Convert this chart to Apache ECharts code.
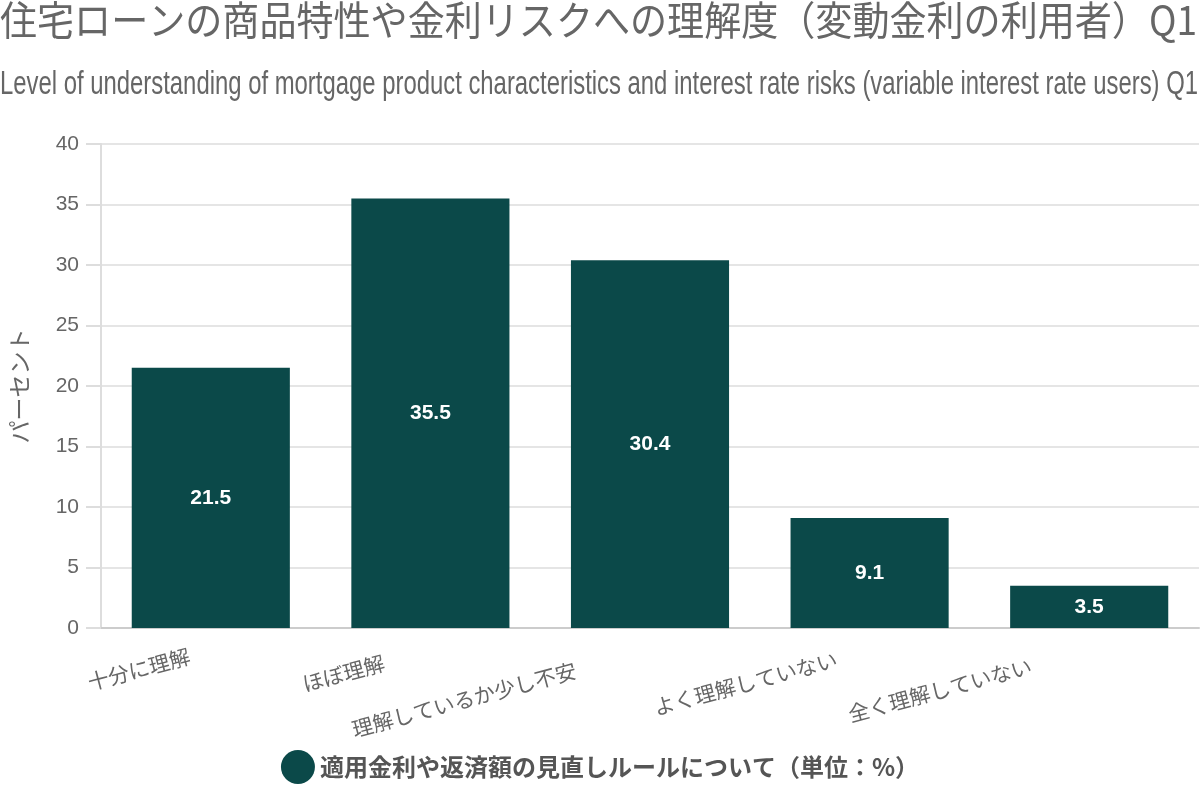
<!DOCTYPE html>
<html>
<head>
<meta charset="utf-8">
<title>住宅ローンの理解度</title>
<script src="https://cdn.jsdelivr.net/npm/echarts@6/dist/echarts.min.js"></script>
<style>
  html, body { margin: 0; padding: 0; background: #fff; }
  #main { width: 1200px; height: 800px; }
</style>
</head>
<body>
<div id="main"></div>
<script>
const categories = ['十分に理解', 'ほぼ理解', '理解しているか少し不安', 'よく理解していない', '全く理解していない'];
const values = [21.5, 35.5, 30.4, 9.1, 3.5];
const seriesName = '適用金利や返済額の見直しルールについて（単位：%）';
const yTicks = { min: 0, max: 40, interval: 5 };

const titleText = '住宅ローンの商品特性や金利リスクへの理解度（変動金利の利用者）Q1';
const subText = 'Level of understanding of mortgage product characteristics and interest rate risks (variable interest rate users) Q1';

const jp = '"Noto Sans CJK JP", "Noto Sans", sans-serif';
const latin = '"Liberation Sans", Arial, sans-serif';

// the titles in the original are squeezed to the chart width
const ctx = document.createElement('canvas').getContext('2d');
function fitScale(text, font, width) {
  ctx.font = font;
  return Math.min(1, width / ctx.measureText(text).width);
}
const titleScale = fitScale(titleText, '40px ' + jp, 1197);
const subScale = fitScale(subText, '33px ' + latin, 1198);

// nudges so the rotated labels sit where the original draws them
const labelShift = [22, 48, 77, 34, 60];

const chart = echarts.init(document.getElementById('main'));

const option = {
  animation: false,
  graphic: [
    {
      type: 'text',
      x: 0,
      y: 0,
      scaleX: titleScale,
      style: { text: titleText, fontFamily: jp, fontSize: 40, fill: '#666', textVerticalAlign: 'top' }
    },
    {
      type: 'text',
      x: 0,
      y: 68,
      scaleX: subScale,
      style: { text: subText, fontFamily: latin, fontSize: 33, fill: '#666', textVerticalAlign: 'top' }
    }
  ],
  legend: {
    bottom: 11,
    left: 'center',
    icon: 'circle',
    itemWidth: 34,
    itemHeight: 34,
    itemGap: 10,
    textStyle: { fontFamily: jp, fontSize: 24, fontWeight: 'bold', color: '#555' },
    data: [seriesName]
  },
  grid: { left: 95, right: 1, top: 144, bottom: 172, containLabel: false },
  xAxis: {
    type: 'category',
    data: categories.map((c, i) => ({
      value: c,
      textStyle: { padding: [0, labelShift[i], 0, 0] }
    })),
    axisLine: { lineStyle: { color: '#ccc', width: 2 } },
    axisTick: { show: false },
    axisLabel: {
      rotate: 15,
      interval: 0,
      margin: 22,
      fontFamily: jp,
      fontSize: 21,
      color: '#666'
    }
  },
  yAxis: {
    type: 'value',
    min: yTicks.min,
    max: yTicks.max,
    interval: yTicks.interval,
    name: 'パーセント',
    nameLocation: 'middle',
    nameGap: 70,
    nameTextStyle: { fontFamily: jp, fontSize: 23, color: '#666' },
    axisLine: { show: true, lineStyle: { color: '#ddd', width: 2 } },
    axisTick: { show: true, length: 15, lineStyle: { color: '#ddd', width: 2 } },
    axisLabel: { fontFamily: latin, fontSize: 21, color: '#666', margin: 22 },
    splitLine: { lineStyle: { color: '#e5e5e5', width: 2 } }
  },
  series: [
    {
      name: seriesName,
      type: 'bar',
      data: values,
      barWidth: '72%',
      itemStyle: { color: '#0b4949' },
      label: {
        show: true,
        position: 'inside',
        color: '#fff',
        fontFamily: latin,
        fontSize: 21,
        fontWeight: 'bold'
      }
    }
  ]
};

chart.setOption(option);
</script>
</body>
</html>
